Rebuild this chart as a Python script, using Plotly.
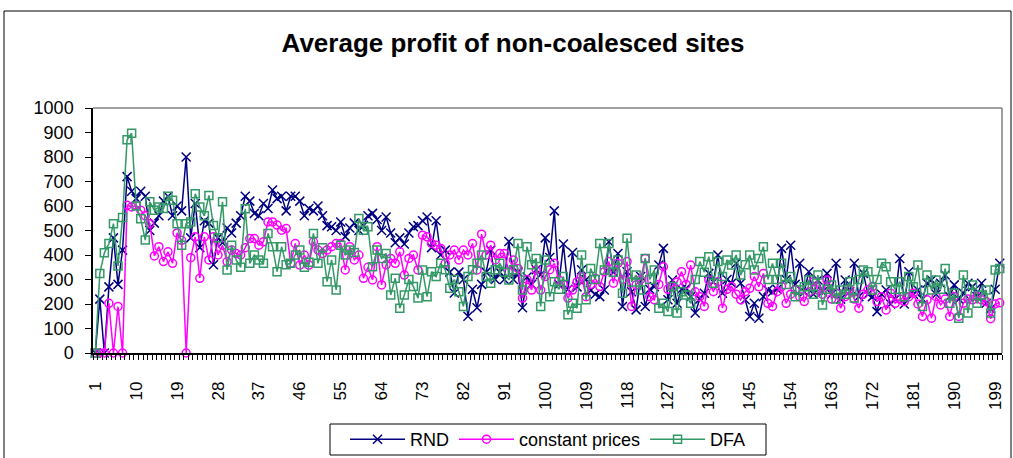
import plotly.graph_objects as go

# Run index 1..200
runs = list(range(1, 201))

rnd = [
    0, 220, 0, 270, 470, 280, 420, 720, 660, 630,
    660, 640, 500, 530, 560, 620, 640, 560, 600, 580,
    800, 470, 610, 430, 540, 530, 360, 470, 450, 510,
    490, 530, 560, 640, 620, 570, 560, 610, 590, 665,
    630, 640, 580, 640, 640, 620, 560, 590, 580, 600,
    560, 520, 515, 500, 535, 475, 510, 530, 500, 520,
    560, 570, 545, 500, 555, 490, 450, 470, 445, 490,
    515, 520, 540, 555, 430, 540, 400, 420, 330, 245,
    330, 300, 150, 260, 185, 280, 330, 420, 300, 330,
    300, 455, 300, 330, 185, 310, 280, 340, 320, 470,
    390, 580, 280, 445, 260, 410, 270, 340, 300, 255,
    240, 230, 257, 454, 330, 406, 190, 332, 250, 176,
    312, 190, 260, 271, 359, 427, 217, 298, 203, 260,
    264, 230, 163, 220, 244, 325, 290, 400, 244, 300,
    285, 366, 285, 217, 149, 203, 142, 230, 257, 250,
    260, 427, 300, 440, 280, 366, 250, 332, 240, 298,
    250, 325, 240, 366, 220, 298, 250, 366, 230, 325,
    240, 230, 169, 240, 257, 200, 220, 386, 200, 332,
    240, 257, 220, 285, 298, 240, 285, 318, 230, 278,
    220, 244, 285, 271, 230, 285, 203, 180, 260, 366,
]

constant_prices = [
    0, 0, 0, 203, 0, 190, 0, 603, 596, 603,
    583, 560, 528, 396, 434, 373, 413, 366, 490, 460,
    0, 389, 474, 305, 474, 380, 474, 400, 440, 373,
    420, 406, 400, 430, 467, 467, 440, 454, 535, 535,
    522, 501, 508, 366, 447, 359, 400, 359, 454, 420,
    406, 420, 434, 447, 447, 339, 434, 380, 400, 305,
    350, 298, 434, 278, 360, 386, 366, 413, 318, 386,
    400, 339, 481, 474, 447, 440, 427, 366, 400, 420,
    380, 420, 400, 447, 339, 485, 400, 440, 380, 406,
    406, 332, 380, 345, 224, 300, 257, 339, 257, 312,
    340, 366, 298, 280, 224, 257, 290, 312, 230, 280,
    305, 271, 332, 373, 285, 366, 300, 373, 190, 278,
    300, 386, 230, 217, 280, 352, 260, 271, 290, 332,
    280, 359, 250, 230, 190, 298, 250, 291, 183, 260,
    271, 240, 217, 250, 264, 312, 270, 325, 203, 190,
    250, 271, 203, 240, 257, 230, 210, 250, 291, 257,
    240, 298, 220, 244, 183, 230, 257, 220, 183, 240,
    257, 271, 210, 230, 176, 244, 203, 220, 210, 230,
    244, 200, 149, 217, 142, 230, 196, 220, 149, 230,
    149, 203, 220, 217, 230, 217, 210, 140, 200, 205,
]

dfa = [
    0, 325, 409, 447, 528, 355, 553, 870, 897, 600,
    548, 461, 617, 583, 596, 590, 640, 623, 528, 440,
    528, 535, 650, 596, 560, 643, 520, 470, 617, 339,
    440, 380, 350, 589, 366, 400, 380, 366, 488, 434,
    332, 434, 360, 366, 400, 420, 350, 370, 488, 366,
    430, 291, 380, 257, 440, 400, 420, 410, 549, 501,
    515, 352, 420, 386, 406, 237, 305, 183, 237, 300,
    271, 224, 339, 230, 332, 312, 366, 340, 264, 300,
    250, 190, 312, 340, 366, 400, 312, 285, 340, 366,
    330, 298, 340, 447, 257, 434, 360, 386, 190, 380,
    230, 291, 260, 312, 156, 203, 183, 400, 217, 345,
    300, 447, 339, 447, 330, 380, 244, 468, 290, 318,
    257, 386, 300, 339, 183, 203, 169, 271, 163, 250,
    237, 203, 300, 373, 330, 393, 285, 373, 312, 380,
    359, 400, 318, 360, 400, 339, 386, 434, 300, 366,
    300, 366, 280, 312, 230, 257, 270, 298, 240, 318,
    196, 260, 278, 220, 257, 240, 291, 224, 300, 339,
    332, 257, 300, 366, 352, 291, 260, 291, 230, 312,
    270, 359, 190, 318, 257, 298, 260, 345, 203, 244,
    142, 318, 163, 278, 203, 237, 257, 163, 339, 345,
]

x_tick_vals = list(range(1, 201, 9))
x_tick_text = [str(v) for v in x_tick_vals]
y_tick_vals = list(range(0, 1001, 100))

FONT = "Liberation Sans, Arial, sans-serif"

fig = go.Figure()

fig.add_trace(go.Scatter(
    x=runs, y=rnd, name="RND", mode="lines+markers",
    line=dict(color="#000080", width=1.5),
    marker=dict(symbol="x-thin-open", size=9, color="#000080",
                line=dict(color="#000080", width=1.5)),
    cliponaxis=False,
))
fig.add_trace(go.Scatter(
    x=runs, y=constant_prices, name="constant prices", mode="lines+markers",
    line=dict(color="#FF00FF", width=1.5),
    marker=dict(symbol="circle-open", size=8, color="#FF00FF",
                line=dict(color="#FF00FF", width=1.5)),
    cliponaxis=False,
))
fig.add_trace(go.Scatter(
    x=runs, y=dfa, name="DFA", mode="lines+markers",
    line=dict(color="#339966", width=1.5),
    marker=dict(symbol="square-open", size=8, color="#339966",
                line=dict(color="#339966", width=1.5)),
    cliponaxis=False,
))

# plot area: x 93..1002, y 108..353 in a 1013x458 page
L, R, T, B = 93, 11, 108, 105
PW, PH = 1013 - L - R, 458 - T - B

def px(x):
    return (x - L) / PW

def py(y):
    return (458 - B - y) / PH

shapes = [
    # outer chart frame
    dict(type="rect", xref="paper", yref="paper",
         x0=px(4), x1=px(1011), y0=py(470), y1=py(11),
         line=dict(color="black", width=1), fillcolor="rgba(0,0,0,0)", layer="below"),
    # legend frame
    dict(type="rect", xref="paper", yref="paper",
         x0=px(330), x1=px(766), y0=py(455), y1=py(424),
         line=dict(color="black", width=1), fillcolor="rgba(0,0,0,0)", layer="below"),
    # grey plot-area border (top and right)
    dict(type="line", xref="paper", yref="paper", x0=0, x1=1, y0=1, y1=1,
         line=dict(color="#808080", width=1.5)),
    dict(type="line", xref="paper", yref="paper", x0=1, x1=1, y0=0, y1=1,
         line=dict(color="#808080", width=1.5)),
]

fig.update_layout(
    width=1013, height=458,
    margin=dict(l=L, r=R, t=T, b=B, pad=0, autoexpand=False),
    paper_bgcolor="white", plot_bgcolor="white",
    font=dict(family=FONT, size=18, color="black"),
    title=dict(text="<b>Average profit of non-coalesced sites</b>",
               font=dict(family=FONT, size=26, color="black"),
               x=513 / 1013, xref="container", xanchor="center",
               y=1 - 43 / 458, yref="container", yanchor="middle"),
    showlegend=True,
    legend=dict(orientation="h", x=px(548), xanchor="center",
                y=py(421), yanchor="top",
                bgcolor="rgba(0,0,0,0)", borderwidth=0,
                font=dict(family=FONT, size=18, color="black"),
                itemwidth=55, tracegroupgap=0),
    shapes=shapes,
)

fig.update_xaxes(
    range=[0.5, 200.5], showgrid=False, zeroline=False, automargin=False,
    showline=True, linecolor="black", linewidth=1.5,
    tickmode="array", tickvals=x_tick_vals, ticktext=x_tick_text,
    tickangle=-90, ticks="", ticklabelstandoff=20,
    tickfont=dict(family=FONT, size=17, color="black"),
    minor=dict(tickmode="linear", tick0=0.5, dtick=1, ticks="outside",
               ticklen=5, tickcolor="black", tickwidth=1),
)
fig.update_yaxes(
    range=[0, 1000], showgrid=False, zeroline=False, automargin=False,
    showline=True, linecolor="black", linewidth=1.5,
    tickmode="array", tickvals=y_tick_vals,
    ticks="outside", ticklen=6, tickcolor="black", tickwidth=1,
    ticklabelstandoff=8,
    tickfont=dict(family=FONT, size=18, color="black"),
)

fig.write_html("out.html")
